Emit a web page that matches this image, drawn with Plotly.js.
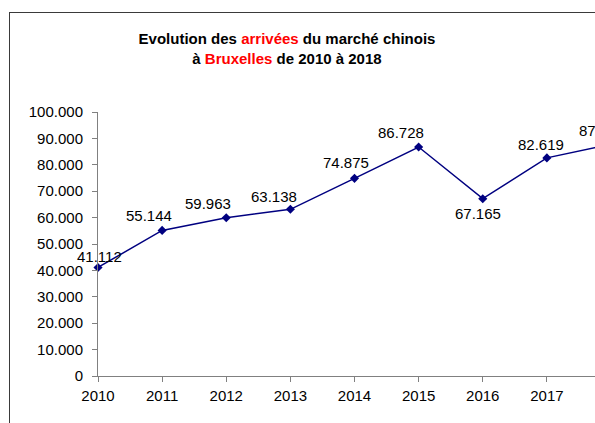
<!DOCTYPE html>
<html>
<head>
<meta charset="utf-8">
<script src="https://cdn.plot.ly/plotly-3.0.1.min.js"></script>
<style>
  html, body { margin:0; padding:0; width:595px; height:423px; overflow:hidden; background:#fff; }
  #chart { position:absolute; left:9px; top:12px; width:650px; height:430px; border:1px solid #3a3a3a; }
</style>
</head>
<body>
<div id="chart"></div>
<script>
// Data
const years = [2010, 2011, 2012, 2013, 2014, 2015, 2016, 2017, 2018];
const arrivals = [41112, 55144, 59963, 63138, 74875, 86728, 67165, 82619, 87766];
const yTickValues = [0, 10000, 20000, 30000, 40000, 50000, 60000, 70000, 80000, 90000, 100000];
// 2018 tick label lies beyond the cropped right edge in the reference
const xTickLabels = ['2010', '2011', '2012', '2013', '2014', '2015', '2016', '2017', ''];

// Label nudges (styling only, pixels)
const labelDx = [1, -13, -18, -16, -9, -18, -5, -6, -9];
const labelDy = [11, 15, 14, 13, 16, 15, -15, 13, 14];

function fmt(v) {
  return Math.round(v).toString().replace(/\B(?=(\d{3})+(?!\d))/g, '.');
}

const navy = '#000080';
const trace = {
  x: years, y: arrivals, type: 'scatter', mode: 'lines+markers',
  line: { color: navy, width: 1.5 },
  marker: { symbol: 'diamond', size: 7, color: navy },
  cliponaxis: false, hoverinfo: 'skip'
};

const annotations = years.map((yr, i) => ({
  x: yr, y: arrivals[i], xref: 'x', yref: 'y', text: fmt(arrivals[i]),
  showarrow: false, xanchor: 'center', yanchor: 'middle',
  xshift: labelDx[i], yshift: labelDy[i],
  font: { family: 'Liberation Sans, Arial, sans-serif', size: 15, color: '#000' }
}));

const W = 650, H = 430;
const layout = {
  width: W, height: H,
  paper_bgcolor: '#fff', plot_bgcolor: '#fff',
  separators: ',.',
  margin: { l: 88, r: W - 88 - 513.5, t: 99, b: H - 99 - 264, pad: 0 },
  font: { family: 'Liberation Sans, Arial, sans-serif', size: 15, color: '#000' },
  title: {
    text: "<b>Evolution des <span style='color:#ff0000'>arrivées</span> du marché chinois<br>à <span style='color:#ff0000'>Bruxelles</span> de 2010 à 2018</b>",
    font: { family: 'Liberation Sans, Arial, sans-serif', size: 15, color: '#000' },
    xref: 'container', yref: 'container',
    x: 277 / W, xanchor: 'center',
    y: 1 - 31 / H, yanchor: 'middle'
  },
  xaxis: {
    range: [2010, 2018], tickmode: 'array', tickvals: years, ticktext: xTickLabels,
    showgrid: false, zeroline: false, showline: true, linecolor: '#808080', linewidth: 1,
    ticks: 'outside', ticklen: 5, tickcolor: '#808080', tickwidth: 1,
    ticklabelstandoff: 1,
    tickfont: { family: 'Liberation Sans, Arial, sans-serif', size: 15, color: '#000' },
    fixedrange: true
  },
  yaxis: {
    range: [0, 100000], tickmode: 'array', tickvals: yTickValues, tickformat: ',d',
    showgrid: false, zeroline: false, showline: true, linecolor: '#808080', linewidth: 1,
    ticks: 'outside', ticklen: 5, tickcolor: '#808080', tickwidth: 1,
    ticklabelstandoff: 6,
    tickfont: { family: 'Liberation Sans, Arial, sans-serif', size: 15, color: '#000' },
    fixedrange: true
  },
  showlegend: false,
  annotations: annotations
};

Plotly.newPlot('chart', [trace], layout, { displayModeBar: false, staticPlot: true });
</script>
</body>
</html>
